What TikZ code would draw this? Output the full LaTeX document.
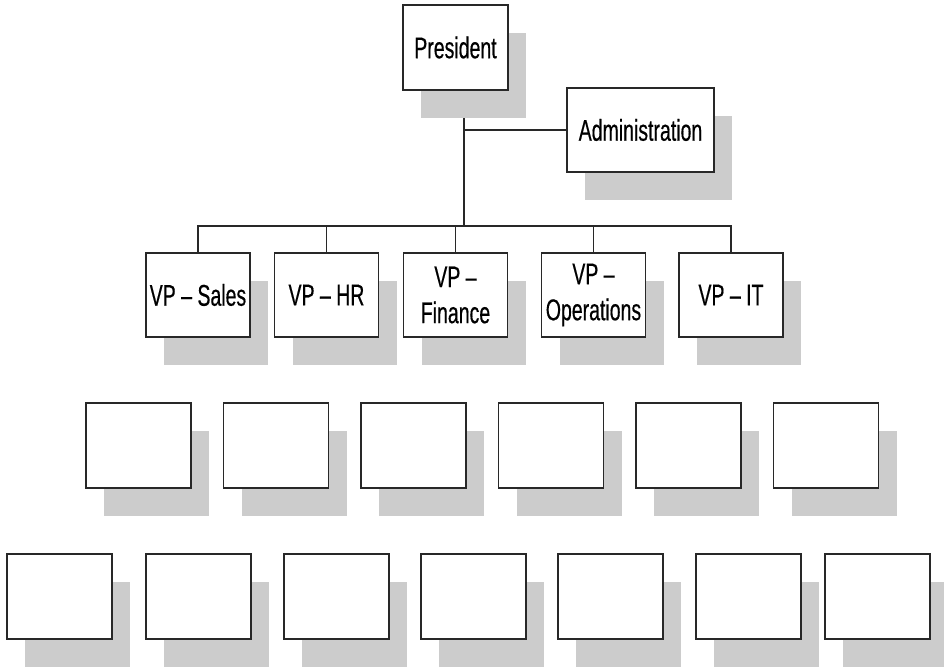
\documentclass[tikz,border=0pt]{standalone}
\usepackage{fontspec}
\setmainfont{Liberation Sans}[FakeStretch=0.65,FakeBold=0.4]
\usetikzlibrary{shadows,backgrounds}
\definecolor{chartShadow}{RGB}{204, 204, 204}
\definecolor{chartLine}{RGB}{40, 40, 40}

\begin{document}
\begin{tikzpicture}[
  x=1pt, y=-1pt,
  post/.style={
    draw=chartLine,
    fill=white,
    line width=1.6pt,
    minimum width=105pt,
    minimum height=85pt,
    inner sep=0pt,
    align=center,
    font=\fontsize{30}{36}\selectfont,
    general shadow={fill=chartShadow, shadow xshift=18pt, shadow yshift=-28pt}
  },
  link/.style={line width=1.6pt,chartLine}
]
  \useasboundingbox (0,0) rectangle (944,667);

  % top of the chart
  \node[post] (pres) at (455.5,47.5) {President};
  \node[post,minimum width=147pt,minimum height=84pt] (admin) at (640.5,130) {Administration};

  % vice presidents
  \node[post,minimum width=104pt,minimum height=84pt] (sales) at (198,295) {VP -- Sales};
  \node[post,minimum width=104pt,minimum height=84pt] (hr) at (326.5,295) {VP -- HR};
  \node[post,minimum width=104pt,minimum height=84pt] (fin) at (455.5,295) {VP --\\Finance};
  \node[post,minimum width=104pt,minimum height=84pt] (ops) at (593.5,295) {VP --\\Operations};
  \node[post,minimum width=104pt,minimum height=84pt] (it) at (731,295) {VP -- IT};

  % empty boxes
  \foreach \x [count=\i] in {138.5,276,413.5,551,688.5,826}
    \node[post] (mid\i) at (\x,445.5) {};
  \foreach \x [count=\i] in {59.5,198.5,336.5,473.5,610.5,748.5,877.5}
    \node[post] (low\i) at (\x,596.5) {};

  \coordinate (bus) at (464,226);

  \begin{pgfonlayer}{background}
    \draw[link] (bus) -- (bus |- pres.south);
    \draw[link] (admin.west) -| (bus);
    \foreach \v in {sales,hr,fin,ops,it}
      \draw[link] (bus) -| (\v.north);
  \end{pgfonlayer}
\end{tikzpicture}
\end{document}
